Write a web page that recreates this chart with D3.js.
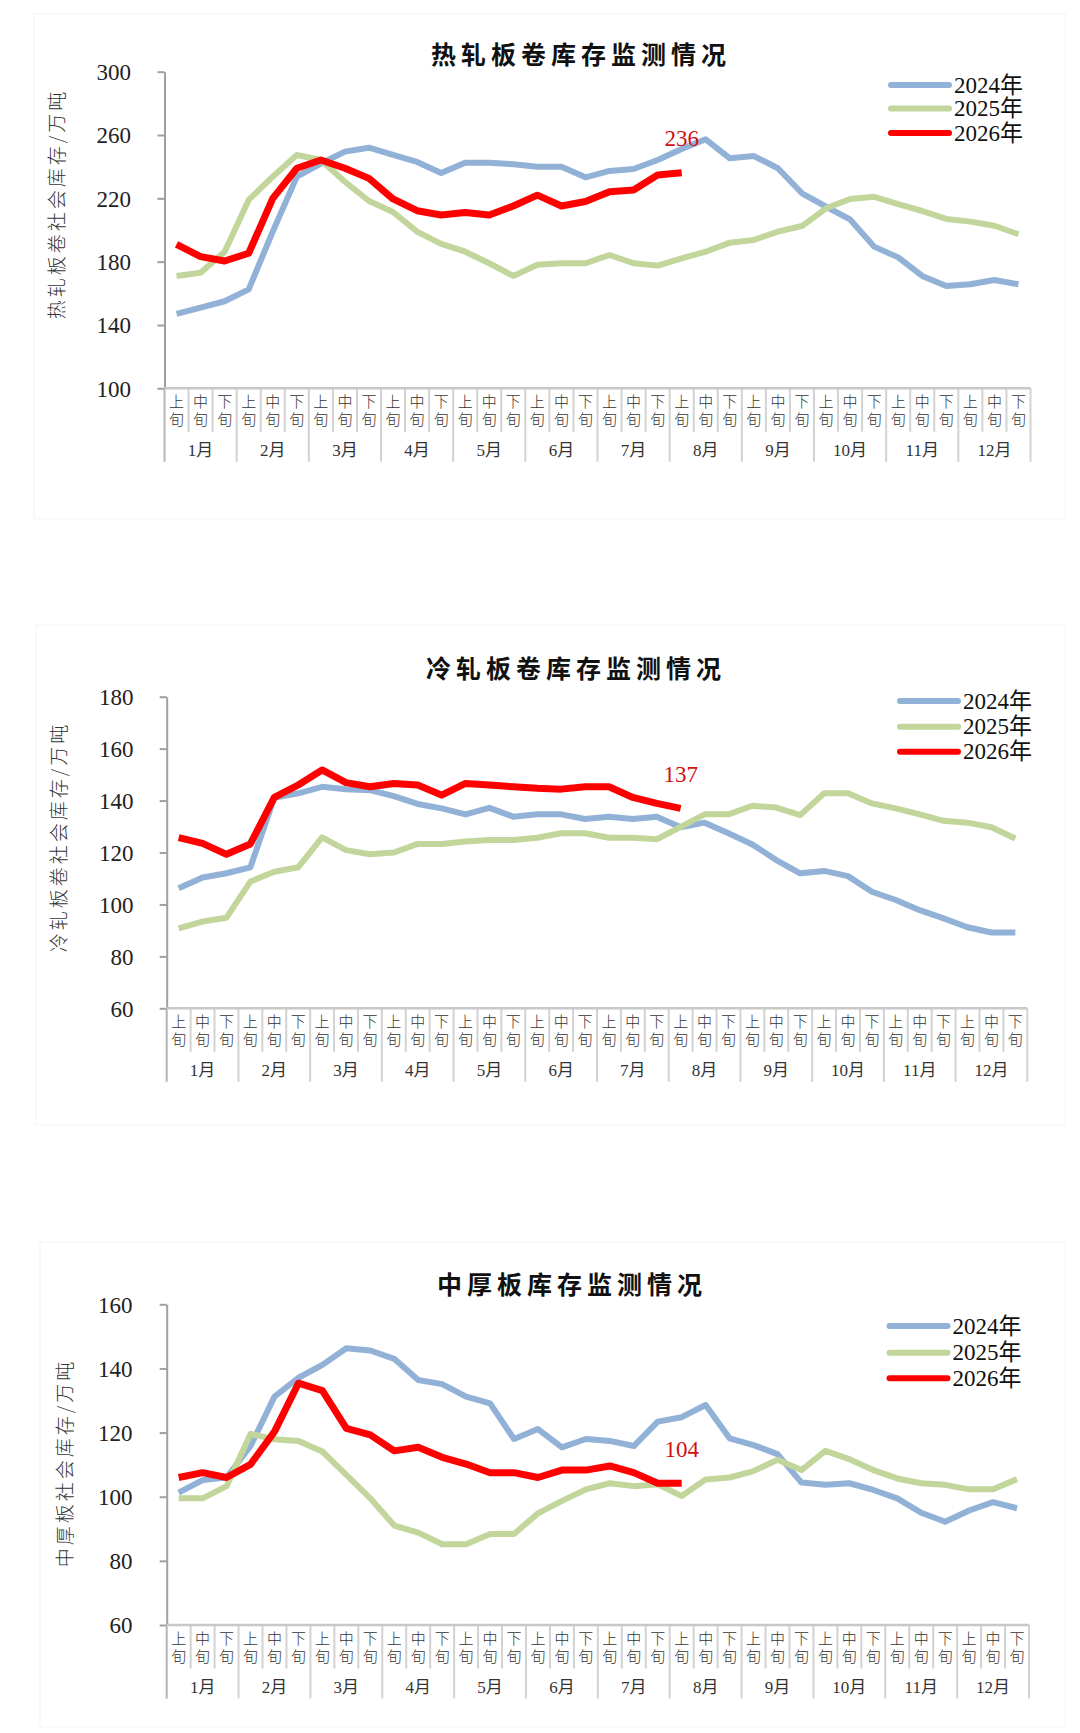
<!DOCTYPE html>
<html><head><meta charset="utf-8">
<script src="https://cdn.jsdelivr.net/npm/d3@7"></script>
<style>
html,body{margin:0;padding:0;background:#fff;}
svg{display:block;}
</style></head>
<body>
<svg id="c" width="1080" height="1733"></svg>
<script>
// ---------- data ----------
const periods = ["上旬","中旬","下旬"];
const months = ["1月","2月","3月","4月","5月","6月","7月","8月","9月","10月","11月","12月"];
const seriesNames = ["2024年","2025年","2026年"];

const chartTitles = ["热轧板卷库存监测情况","冷轧板卷库存监测情况","中厚板库存监测情况"];
const axisTitles = ["热轧板卷社会库存/万吨","冷轧板卷社会库存/万吨","中厚板社会库存/万吨"];

const yTicksHot = [100,140,180,220,260,300];
const yTicksCold = [60,80,100,120,140,160,180];
const yTicksPlate = [60,80,100,120,140,160];

const hot2024 = [147,151,155,162.5,199,233.7,242,249.5,252,247.4,243,236,242.5,242.5,241.5,240,
  240,233.3,237.3,238.5,244.2,251.2,257.3,245.3,246.7,239,223.2,214.7,206.7,189.5,182.7,171,164.6,165.7,168.4,165.7];
const hot2025 = [171,173,186.3,219,233.7,247.4,244.2,230.5,218.3,211.4,199,191.2,186.3,179,171,178,
  179,179,184.2,179,177.5,182.1,186.3,192,193.7,199,202.5,213.7,219.6,221,216.4,212,207,205.3,202.7,197.3];
const hot2026 = [190.9,183.2,180.4,185.3,220,239,244.2,239,232.6,219.6,212.2,209.5,211,209.5,215.2,222,
  215.2,218,224.2,225.3,234.7,236.2];

const cold2024 = [106.2,110.4,112,114.3,141.1,142.8,145.3,144.4,144,141.7,138.7,137,134.7,137.2,133.8,134.7,
  134.7,132.9,133.8,132.9,133.8,129.7,131.5,127.4,123.1,117.1,112,112.9,110.9,104.9,101.7,97.8,94.6,91.2,89.2,89.2];
const cold2025 = [90.8,93.4,94.9,108.8,112.6,114.3,125.8,120.9,119.3,120,123.3,123.3,124.2,124.8,124.8,125.7,
  127.4,127.4,125.7,125.7,125.1,129.9,134.7,134.7,138,137.3,134.4,142.8,142.8,138.9,137,134.7,132.2,131.5,129.7,125.4];
const cold2026 = [125.7,123.5,119.3,123.3,141.2,146,151.8,146.9,145.3,146.6,146,142.1,146.6,146,145.3,144.7,
  144.4,145.3,145.3,141.2,138.9,137];

const plate2024 = [101.3,105.2,106,115.8,131.2,137.1,141.1,146.3,145.6,143,136.4,135.1,131.2,129.1,118,121.1,
  115.4,118,117.4,115.8,123.4,124.8,128.6,118.2,116.1,113.3,104.4,103.7,104.2,102.1,99.5,95,92.2,95.7,98.3,96.4];
const plate2025 = [99.5,99.5,103.3,119.6,117.9,117.4,114.1,106.8,99.5,91,88.8,85.2,85.2,88.4,88.4,94.8,
  98.7,102.3,104.2,103.3,103.9,100.2,105.4,106,108,111.5,108.3,114.3,111.7,108.3,105.7,104.2,103.7,102.3,102.3,105.5];
const plate2026 = [106,107.5,106,110.1,120.3,135.4,133.1,121.3,119.3,114.3,115.4,112.3,110.2,107.5,107.5,106,
  108.3,108.3,109.6,107.5,104.2,104.2];

// ---------- layout / style ----------
const colors = ["#92b1d7","#c2d69c","#ff0000"];
const widths = [6,6,7];
const serif = "'Liberation Serif','Times New Roman','Noto Sans CJK SC',serif";
const cjk = "'Noto Sans CJK SC','Noto Sans CJK JP',sans-serif";

const layouts = [
  {series:[hot2024,hot2025,hot2026], ticks:yTicksHot, domain:[100,300],
   left:164.5, right:1030.5, top:71.7, bottom:388.3, titleX:581, titleY:53,
   ytX:55, ytY:204, legX:891, legY:[85,108.5,133], tickLabX:131,
   frame:[34,14,1031,505]},
  {series:[cold2024,cold2025,cold2026], ticks:yTicksCold, domain:[60,180],
   left:166.7, right:1027.3, top:696.7, bottom:1008.3, titleX:576, titleY:667,
   ytX:57, ytY:837, legX:900, legY:[701,726.7,751.7], tickLabX:133.5,
   frame:[36,625,1029,500]},
  {series:[plate2024,plate2025,plate2026], ticks:yTicksPlate, domain:[60,160],
   left:166.7, right:1029, top:1304.3, bottom:1625, titleX:572, titleY:1283,
   ytX:63, ytY:1463, legX:889.5, legY:[1326,1352.7,1378.3], tickLabX:132.5,
   frame:[40,1242,1025,485]}
];

const svg = d3.select("#c");
const nCat = months.length * periods.length;
const catIdx = d3.range(nCat);

layouts.forEach((L, k) => {
  const g = svg.append("g");
  // very faint frame
  g.append("rect").attr("x",L.frame[0]).attr("y",L.frame[1]).attr("width",L.frame[2]).attr("height",L.frame[3])
    .attr("fill","none").attr("stroke","#f8f8f8").attr("stroke-width",1.5);

  const x = d3.scaleBand().domain(catIdx).range([L.left, L.right]).padding(0);
  const bw = x.bandwidth();
  const y = d3.scaleLinear().domain(L.domain).range([L.bottom, L.top]);

  // title
  g.append("text").attr("x",L.titleX).attr("y",L.titleY).attr("text-anchor","middle")
    .attr("dominant-baseline","central").attr("font-family",cjk).attr("font-weight","bold")
    .attr("font-size",25).attr("letter-spacing",5).attr("fill","#111").text(chartTitles[k]);

  // y axis title
  g.append("text").attr("transform",`translate(${L.ytX},${L.ytY}) rotate(-90)`)
    .attr("text-anchor","middle").attr("dominant-baseline","central")
    .attr("font-family",cjk).attr("font-size",19).attr("font-weight",300).attr("letter-spacing",3).attr("fill","#333")
    .text(axisTitles[k]);

  // y axis
  const ya = g.append("g").attr("transform",`translate(${L.left},0)`)
    .call(d3.axisLeft(y).tickValues(L.ticks).tickSize(7).tickSizeOuter(0).tickPadding(10).tickFormat(d3.format("d")));
  ya.select(".domain").attr("stroke","#a0a0a0").attr("stroke-width",2);
  ya.selectAll(".tick line").attr("stroke","#a0a0a0").attr("stroke-width",2);
  ya.selectAll(".tick text").attr("font-family",serif).attr("font-size",23).attr("fill","#222")
    .attr("x", L.tickLabX - L.left).attr("dy","0.34em");

  // category axis
  const axG = g.append("g");
  d3.range(nCat + 1).forEach(i => {
    const xx = L.left + i * bw;
    const long = (i % 3 === 0);
    axG.append("line").attr("x1",xx).attr("x2",xx).attr("y1",L.bottom)
      .attr("y2", L.bottom + (long ? 73.5 : 43.5))
      .attr("stroke", i === 0 ? "#b5b5b5" : "#d2d2d2").attr("stroke-width",2);
  });
  axG.append("line").attr("x1",L.left).attr("x2",L.right).attr("y1",L.bottom).attr("y2",L.bottom)
    .attr("stroke","#c8c8c8").attr("stroke-width",2.5);

  catIdx.forEach(i => {
    const cx = x(i) + bw/2;
    const p = periods[i % 3];
    axG.append("text").attr("x",cx).attr("y",L.bottom+12).attr("text-anchor","middle")
      .attr("dominant-baseline","central").attr("font-family",cjk).attr("font-size",15)
      .attr("font-weight",300).attr("fill","#333").text(p[0]);
    axG.append("text").attr("x",cx).attr("y",L.bottom+30.5).attr("text-anchor","middle")
      .attr("dominant-baseline","central").attr("font-family",cjk).attr("font-size",15)
      .attr("font-weight",300).attr("fill","#333").text(p[1]);
  });
  months.forEach((m, j) => {
    const cx = x(j*3) + bw*1.5;
    axG.append("text").attr("x",cx).attr("y",L.bottom+62).attr("text-anchor","middle")
      .attr("dominant-baseline","central").attr("font-family",serif).attr("font-size",17)
      .attr("fill","#333").text(m);
  });

  // lines
  const line = d3.line().x((d,i) => x(i) + bw/2).y(d => y(d));
  L.series.forEach((s, si) => {
    g.append("path").datum(s).attr("d",line).attr("fill","none")
      .attr("stroke",colors[si]).attr("stroke-width",widths[si])
      .attr("stroke-linejoin","round").attr("stroke-linecap","butt");
  });

  // last value label
  const last = L.series[2];
  const li = last.length - 1;
  g.append("text").attr("x", x(li) + bw/2).attr("y", y(last[li]) - 34)
    .attr("text-anchor","middle").attr("dominant-baseline","central")
    .attr("font-family",serif).attr("font-size",23).attr("fill","#d11010")
    .text(Math.round(last[li]));

  // legend
  seriesNames.forEach((nm, si) => {
    const ly = L.legY[si];
    g.append("line").attr("x1",L.legX).attr("x2",L.legX+58).attr("y1",ly).attr("y2",ly)
      .attr("stroke",colors[si]).attr("stroke-width",6).attr("stroke-linecap","round");
    g.append("text").attr("x",L.legX+63).attr("y",ly).attr("dominant-baseline","central")
      .attr("font-family",serif).attr("font-size",23).attr("fill","#111").text(nm);
  });
});
</script>
</body></html>
